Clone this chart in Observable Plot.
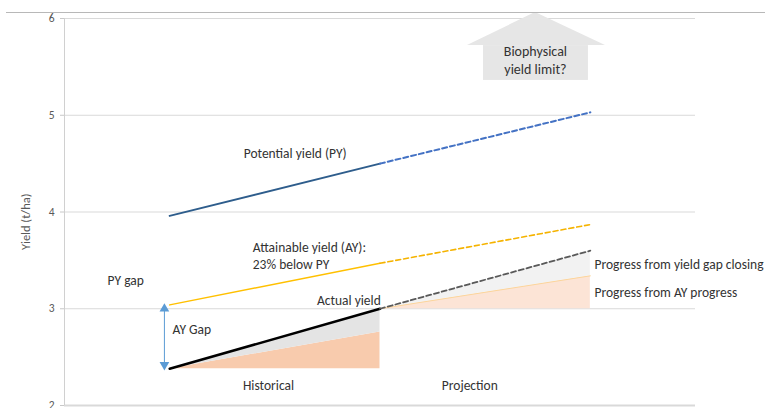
<!DOCTYPE html>
<html>
<head>
<meta charset="utf-8">
<script src="https://cdn.jsdelivr.net/npm/d3@7"></script>
<script src="https://cdn.jsdelivr.net/npm/@observablehq/plot@0.6"></script>
<style>
  html, body { margin: 0; padding: 0; background: #fff; }
  #wrap { position: relative; width: 765px; height: 408px; overflow: hidden; }
  #topline { position: absolute; top: 12px; left: 6px; right: 0; height: 1px; background: #b8b8b8; }
  svg { display: block; }
</style>
</head>
<body>
<div id="wrap"><div id="chart"></div><div id="topline"></div></div>
<script>
// Time steps: 0 = start of record, 1 = today, 2 = end of projection
const periods = [0, 1, 2];
const potentialYield = [3.96, 4.50, 5.03];
const attainableYield = [3.04, 3.47, 3.87];
const actualYield = [2.38, 3.00, 3.60];

// Share of actual-yield growth that comes from attainable-yield progress
const ayProgressHist = [2.38, 2.76];   // periods 0..1, above the starting yield
const ayProgressProj = [3.00, 3.34];   // periods 1..2, above today's yield

const yTicks = [2, 3, 4, 5, 6];

// Arrow outline for the "Biophysical yield limit?" callout
const arrowHeadX = [1.416, 1.739, 2.072];
const arrowHeadTop = [5.72, 6.062, 5.72];
const arrowHeadBase = 5.72;
const arrowShaft = { x1: 1.492, x2: 1.991, y1: 5.36, y2: 5.72 };

const seg = (arr, from, to) => periods.slice(from, to + 1).map((p, i) => ({ x: p, y: arr[from + i] }));

const histRows = [0, 1].map((i) => ({
  x: periods[i], base: actualYield[0], ay: ayProgressHist[i], actual: actualYield[i]
}));
const projRows = [1, 2].map((i, k) => ({
  x: periods[i], base: actualYield[1], ay: ayProgressProj[k], actual: actualYield[i]
}));
const headRows = arrowHeadX.map((x, i) => ({ x, y1: arrowHeadBase, y2: arrowHeadTop[i] }));

const font = "Carlito, Lato, 'Open Sans', sans-serif";
const ink = "#333333";
const note = 13.5;

const chart = Plot.plot({
  width: 765,
  height: 408,
  marginLeft: 64,
  marginRight: 70,
  marginTop: 18,
  marginBottom: 3,
  style: { fontFamily: font, background: "transparent", overflow: "visible" },
  x: { domain: [-0.5, 2.5], axis: null },
  y: { domain: [2, 6], axis: null },
  marks: [
    // grid and axis
    Plot.ruleY(yTicks, { stroke: "#d9d9d9", strokeWidth: 1 }),
    Plot.ruleY([2], { stroke: "#d9d9d9", strokeWidth: 2 }),
    Plot.ruleX([-0.5], { y1: 2, y2: 6, stroke: "#d0d0d0" }),
    Plot.axisY(yTicks, {
      tickSize: 4, tickPadding: 6, stroke: "#c8c8c8", fill: "#595959",
      fontSize: 11.5, tickFormat: (d) => d, label: null
    }),
    Plot.text(["Yield (t/ha)"], { x: -0.5, y: 3.9, dx: -39, rotate: -90, fill: "#595959", fontSize: 12.5 }),

    // historical decomposition
    Plot.areaY(histRows, { x: "x", y1: "base", y2: "ay", fill: "#f8cbad" }),
    Plot.areaY(histRows, { x: "x", y1: "ay", y2: "actual", fill: "#e4e4e4" }),
    // projected decomposition
    Plot.areaY(projRows, { x: "x", y1: "base", y2: "ay", fill: "#fce4d6" }),
    Plot.areaY(projRows, { x: "x", y1: "ay", y2: "actual", fill: "#f2f2f2" }),
    Plot.line(projRows, { x: "x", y: "ay", stroke: "#fbd59c", strokeWidth: 1 }),

    // potential yield
    Plot.line(seg(potentialYield, 0, 1), { x: "x", y: "y", stroke: "#2e5d8c", strokeWidth: 2 }),
    Plot.line(seg(potentialYield, 1, 2), { x: "x", y: "y", stroke: "#4472c4", strokeWidth: 2, strokeDasharray: "5,3" }),
    // attainable yield
    Plot.line(seg(attainableYield, 0, 1), { x: "x", y: "y", stroke: "#ffc000", strokeWidth: 1.5 }),
    Plot.line(seg(attainableYield, 1, 2), { x: "x", y: "y", stroke: "#f5b300", strokeWidth: 1.6, strokeDasharray: "5,3" }),
    // actual yield
    Plot.line(seg(actualYield, 0, 1), { x: "x", y: "y", stroke: "#000", strokeWidth: 2.5 }),
    Plot.line(seg(actualYield, 1, 2), { x: "x", y: "y", stroke: "#595959", strokeWidth: 1.8, strokeDasharray: "5,3" }),

    // AY gap arrow
    Plot.ruleX([-0.025], { y1: actualYield[0], y2: attainableYield[0] - 0.02, stroke: "#5b9bd5", strokeWidth: 1 }),
    Plot.dot([attainableYield[0] - 0.04], { x: -0.025, y: (d) => d, symbol: "triangle", r: 3.6, fill: "#5b9bd5", stroke: null }),
    Plot.dot([actualYield[0] + 0.04], { x: -0.025, y: (d) => d, symbol: "triangle", rotate: 180, r: 3.6, fill: "#5b9bd5", stroke: null }),

    // callout arrow
    Plot.rect([arrowShaft], { x1: "x1", x2: "x2", y1: "y1", y2: "y2", fill: "#e6e6e6" }),
    Plot.areaY(headRows, { x: "x", y1: "y1", y2: "y2", fill: "#e6e6e6" }),
    Plot.text(["Biophysical", "yield limit?"], { x: 1.739, y: (d, i) => [5.66, 5.475][i], fill: ink, fontSize: 14 }),

    // annotations
    Plot.text(["Potential yield (PY)"], { x: 0.352, y: 4.605, textAnchor: "start", fill: ink, fontSize: note }),
    Plot.text(["Attainable yield (AY):", "23% below PY"], { x: 0.395, y: (d, i) => [3.633, 3.46][i], textAnchor: "start", fill: ink, fontSize: note }),
    Plot.text(["Actual yield"], { x: 0.70, y: 3.085, textAnchor: "start", fill: ink, fontSize: note }),
    Plot.text(["PY gap"], { x: -0.295, y: 3.29, textAnchor: "start", fill: ink, fontSize: note }),
    Plot.text(["AY Gap"], { x: 0.014, y: 2.786, textAnchor: "start", fill: ink, fontSize: note }),
    Plot.text(["Historical", "Projection"], { x: (d, i) => [0.47, 1.427][i], y: 2.2, fill: ink, fontSize: note }),
    Plot.text(["Progress from yield gap closing", "Progress from AY progress"], {
      x: 2.02, y: (d, i) => [3.457, 3.168][i], textAnchor: "start", fill: ink, fontSize: 13.5
    })
  ]
});
document.getElementById("chart").appendChild(chart);
</script>
</body>
</html>
